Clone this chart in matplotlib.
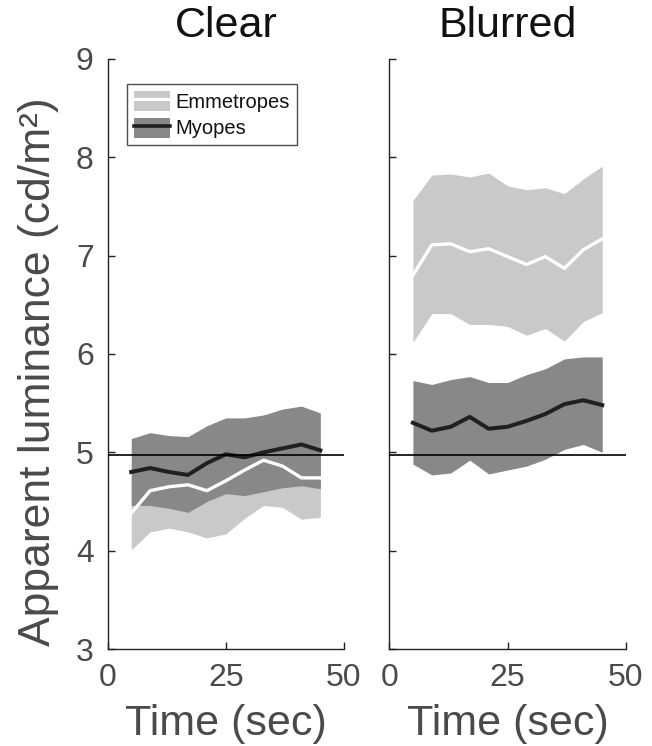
import numpy as np
import matplotlib
matplotlib.use("Agg")
import matplotlib.pyplot as plt
from matplotlib.patches import Patch
from matplotlib.lines import Line2D

# ----------------------------
# Data
# ----------------------------
time_sec = [5, 9, 13, 17, 21, 25, 29, 33, 37, 41, 45]

# Clear condition
clear_emm_mean = [4.38, 4.61, 4.65, 4.67, 4.61, 4.71, 4.82, 4.92, 4.86, 4.74, 4.74]
clear_emm_low = [4.01, 4.19, 4.23, 4.19, 4.13, 4.17, 4.33, 4.46, 4.44, 4.32, 4.34]
clear_emm_high = [4.74, 5.00, 5.05, 5.10, 5.08, 5.22, 5.28, 5.32, 5.25, 5.15, 5.12]
clear_myo_mean = [4.80, 4.84, 4.80, 4.77, 4.89, 4.98, 4.95, 5.00, 5.04, 5.08, 5.02]
clear_myo_low = [4.46, 4.46, 4.43, 4.39, 4.50, 4.58, 4.56, 4.60, 4.64, 4.66, 4.63]
clear_myo_high = [5.14, 5.20, 5.17, 5.16, 5.27, 5.35, 5.35, 5.38, 5.44, 5.47, 5.40]

# Blurred condition
blur_emm_mean = [6.80, 7.11, 7.12, 7.04, 7.07, 6.99, 6.91, 6.99, 6.87, 7.06, 7.17]
blur_emm_low = [6.12, 6.41, 6.41, 6.30, 6.30, 6.28, 6.19, 6.26, 6.13, 6.33, 6.42]
blur_emm_high = [7.56, 7.82, 7.83, 7.80, 7.84, 7.71, 7.67, 7.69, 7.63, 7.78, 7.91]
blur_myo_mean = [5.30, 5.22, 5.26, 5.36, 5.24, 5.26, 5.32, 5.39, 5.49, 5.53, 5.48]
blur_myo_low = [4.88, 4.77, 4.79, 4.92, 4.78, 4.82, 4.86, 4.93, 5.03, 5.08, 5.00]
blur_myo_high = [5.73, 5.69, 5.74, 5.77, 5.71, 5.71, 5.79, 5.85, 5.95, 5.97, 5.97]

reference_level = 4.97
panel_titles = ["Clear", "Blurred"]
x_ticks = [0, 25, 50]
y_ticks = [3, 4, 5, 6, 7, 8, 9]

LIGHT = "#c8c9cb"
DARK = "#87888a"
INK = "#231f20"
TICK_GREY = "#4a4a4a"

plt.rcParams["font.family"] = ["Liberation Sans", "DejaVu Sans"]


def draw_panel(ax, emm, myo, title, show_ylabels):
    """Shaded ranges + mean lines for one viewing condition"""
    emm_mean, emm_low, emm_high = emm
    myo_mean, myo_low, myo_high = myo
    ax.fill_between(time_sec, emm_low, emm_high, color=LIGHT, lw=0, zorder=1)
    ax.fill_between(time_sec, myo_low, myo_high, color=DARK, lw=0, zorder=2)
    ax.plot(time_sec, emm_mean, color="white", lw=2.4, zorder=3)
    ax.plot(time_sec, myo_mean, color=INK, lw=2.9, zorder=4)
    ax.axhline(reference_level, color="black", lw=1.2, zorder=5)

    ax.set_xlim(0, 50)
    ax.set_ylim(3, 9)
    ax.set_xticks(x_ticks)
    ax.set_yticks(y_ticks)
    if not show_ylabels:
        ax.set_yticklabels([])
    ax.tick_params(direction="in", length=5, width=1, labelsize=23,
                   labelcolor=TICK_GREY, color="#222222", pad=10)
    for side in ["top", "right"]:
        ax.spines[side].set_visible(False)
    for side in ["left", "bottom"]:
        ax.spines[side].set_color("#222222")
        ax.spines[side].set_linewidth(1.0)

    ax.set_title(title, fontsize=31, color="#111111", pad=16)
    ax.set_xlabel("Time (sec)", fontsize=31, color=TICK_GREY, labelpad=8)


fig = plt.figure(figsize=(6.52, 7.46), dpi=100)
ax_clear = fig.add_axes([0.165, 0.130, 0.3626, 0.791])
ax_blur = fig.add_axes([0.597, 0.130, 0.363, 0.791])

draw_panel(ax_clear,
           (clear_emm_mean, clear_emm_low, clear_emm_high),
           (clear_myo_mean, clear_myo_low, clear_myo_high),
           panel_titles[0], True)
draw_panel(ax_blur,
           (blur_emm_mean, blur_emm_low, blur_emm_high),
           (blur_myo_mean, blur_myo_low, blur_myo_high),
           panel_titles[1], False)

ax_clear.set_ylabel("Apparent luminance (cd/m²)", fontsize=32, color=TICK_GREY)
ax_clear.yaxis.set_label_coords(-0.205, 0.47)

# legend: patch with the mean line drawn through it
handles = [
    (Patch(facecolor=LIGHT, edgecolor="none"), Line2D([], [], color="white", lw=2.2)),
    (Patch(facecolor=DARK, edgecolor="none"), Line2D([], [], color=INK, lw=2.6)),
]
leg = ax_clear.legend(handles, ["Emmetropes", "Myopes"],
                      loc="upper left", bbox_to_anchor=(0.082, 0.958),
                      borderaxespad=0, fontsize=14.5, frameon=True, fancybox=False,
                      handlelength=1.8, handleheight=1.15, handletextpad=0.25,
                      labelspacing=0.3, borderpad=0.35)
leg.get_frame().set_edgecolor("#222222")
leg.get_frame().set_linewidth(1.0)
for txt in leg.get_texts():
    txt.set_color("#111111")

fig.savefig("out.png", dpi=100)
